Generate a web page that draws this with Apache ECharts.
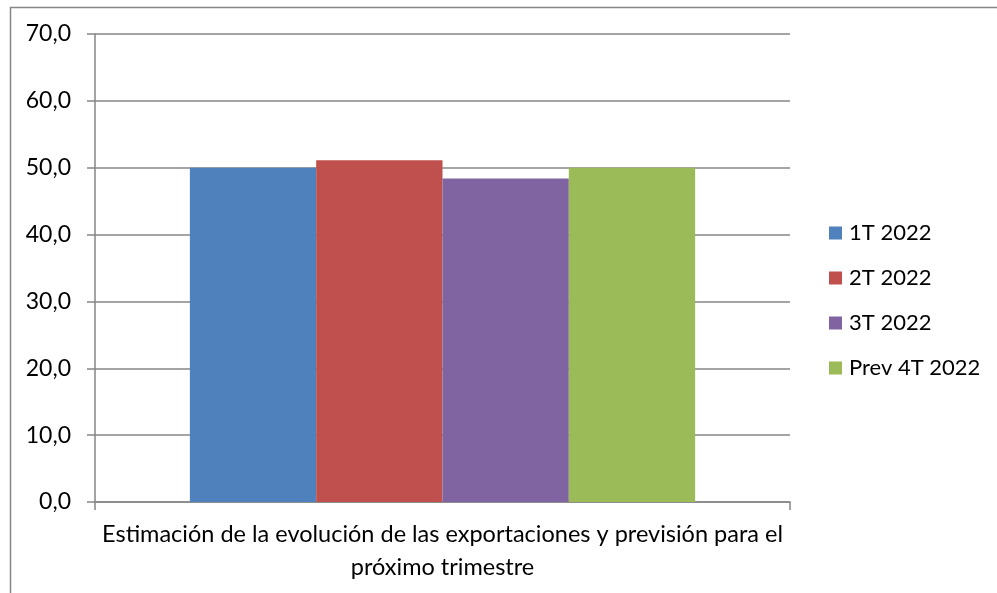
<!DOCTYPE html>
<html><head><meta charset="utf-8">
<script src="https://cdn.jsdelivr.net/npm/echarts@6/dist/echarts.min.js"></script>
<style>html,body{margin:0;padding:0;background:#fff}#c{width:997px;height:593px}</style>
</head><body><div id="c"></div>
<script>
const categories = ['Estimación de la evolución de las exportaciones y previsión para el\npróximo trimestre'];
const seriesNames = ['1T 2022', '2T 2022', '3T 2022', 'Prev 4T 2022'];
const seriesValues = [[50.0], [51.1], [48.4], [50.0]];
const colors = ['#4F81BD', '#C0504D', '#8064A2', '#9BBB59'];
const FONT = 'Lato';
const chart = echarts.init(document.getElementById('c'));
chart.setOption({
  animation: false,
  backgroundColor: '#fff',
  graphic: [{type:'rect', shape:{x:10.5,y:7.5,width:1000,height:600}, style:{fill:'none', stroke:'#868686', lineWidth:1.5}}],
  grid: {left: 95, right: 207, top: 34, bottom: 91, containLabel: false},
  legend: {
    orient: 'vertical', left: 824, top: 217, itemWidth: 13, itemHeight: 13, itemGap: 23, icon: 'rect',
    textStyle: {fontFamily: FONT, fontSize: 22, color: '#000', padding:[0,0,0,2]},
    data: seriesNames
  },
  xAxis: {
    type: 'category', data: categories,
    axisLine: {lineStyle: {color: '#868686', width: 1.5}},
    axisTick: {show: true, length: 8, lineStyle: {color: '#868686', width: 1.5}},
    axisLabel: {fontFamily: FONT, fontSize: 23.5, color: '#000', margin: 16, lineHeight: 33}
  },
  yAxis: {
    type: 'value', min: 0, max: 70, interval: 10,
    axisLine: {show: true, lineStyle: {color: '#868686', width: 1.5}},
    axisTick: {show: true, inside: false, length: 8, lineStyle: {color: '#868686', width: 1.5}},
    splitLine: {lineStyle: {color: '#868686', width: 1.5}},
    axisLabel: {fontFamily: FONT, fontSize: 23, color: '#000', margin: 24,
      formatter: v => v.toFixed(1).replace('.', ',')}
  },
  series: seriesNames.map((n, i) => ({
    name: n, type: 'bar', data: seriesValues[i], barGap: '0%', barCategoryGap: '27.3%',
    itemStyle: {color: colors[i]}
  }))
});
</script></body></html>
